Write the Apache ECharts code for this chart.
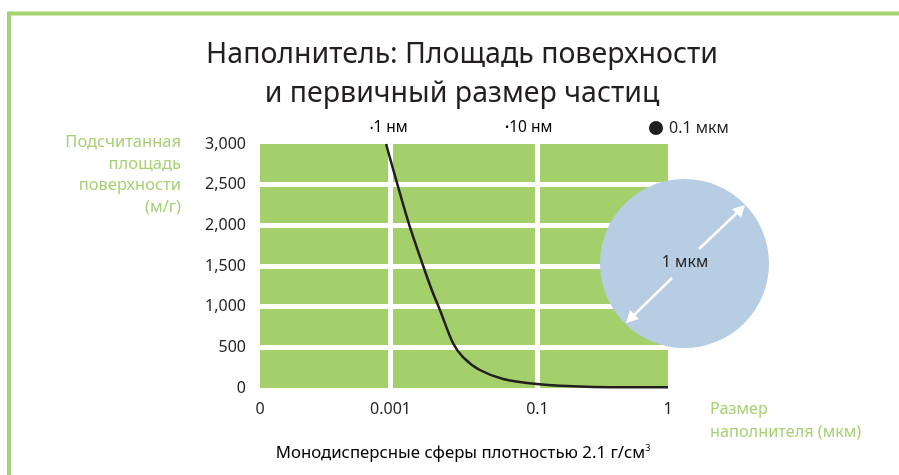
<!DOCTYPE html>
<html>
<head>
<meta charset="utf-8">
<script src="https://cdn.jsdelivr.net/npm/echarts@6/dist/echarts.min.js"></script>
<style>
html,body{margin:0;padding:0;background:#fff;}
#chart{width:899px;height:475px;}
</style>
</head>
<body>
<div id="chart"></div>
<script>
// Axis tick values (positions along the schematic size axis) and their labels
const xTickValues = [0, 32, 68, 100];
const xTickLabels = ['0', '0.001', '0.1', '1'];
// Surface area curve: [axis position, m²/g]
const curveX = [30.9, 33.7, 36.6, 40.0, 42.1, 44.1, 47.3, 49.75, 53.9, 59.6, 67.9, 80.1, 100];
const curveY = [3000, 2500, 2004, 1500, 1205, 959, 553, 381, 221, 111, 49, 16, 8];
const yMin = 0, yMax = 3000, yInterval = 500;

const GREEN = '#a3d06b';
const TEXT = '#231f20';
const LABEL_GREEN = '#a7d074';
const FONT = '"Noto Sans", "Open Sans", sans-serif';

const chart = echarts.init(document.getElementById('chart'));
chart.setOption({
  animation: false,
  backgroundColor: '#fff',
  grid: { left: 260, right: 231, top: 144, bottom: 87, show: true, backgroundColor: GREEN, borderWidth: 0 },
  xAxis: {
    type: 'value', min: 0, max: 100,
    axisLine: { show: false }, axisTick: { show: false }, splitLine: { show: false },
    axisLabel: {
      customValues: xTickValues,
      formatter: v => xTickLabels[xTickValues.indexOf(v)] ?? '',
      margin: 13, color: TEXT, fontSize: 16, fontFamily: FONT
    }
  },
  yAxis: {
    type: 'value', min: yMin, max: yMax, interval: yInterval,
    axisLine: { show: false }, axisTick: { show: false },
    splitLine: { show: true, showMinLine: false, showMaxLine: false, lineStyle: { color: '#fff', width: 5 } },
    axisLabel: {
      formatter: v => v.toLocaleString('en-US'),
      margin: 14, color: TEXT, fontSize: 16, fontFamily: FONT, padding: [0, 0, 3, 0]
    }
  },
  series: [
    {
      type: 'line', data: [], z: 1, silent: true,
      markLine: {
        z: 1, silent: true, symbol: 'none', label: { show: false },
        lineStyle: { color: '#fff', width: 5, type: 'solid' },
        emphasis: { disabled: true },
        data: xTickValues.slice(1, 3).map(v => ({ xAxis: v }))
      }
    },
    {
      type: 'line', z: 3, smooth: 0.3, symbol: 'none', clip: true,
      lineStyle: { color: TEXT, width: 2.5 },
      data: curveX.map((x, i) => [x, curveY[i]])
    }
  ],
  graphic: [
    // frame
    { type: 'line', shape: { x1: 9, y1: 13.5, x2: 899, y2: 13.5 }, style: { stroke: '#a8d372', lineWidth: 4 } },
    { type: 'line', shape: { x1: 9, y1: 11.5, x2: 9, y2: 475 }, style: { stroke: '#a8d372', lineWidth: 4 } },
    // title
    { type: 'text', x: 462, y: 55, style: { text: 'Наполнитель: Площадь поверхности', fontSize: 28.5, fontFamily: FONT, fill: TEXT, align: 'center', verticalAlign: 'middle' } },
    { type: 'text', x: 462, y: 94, style: { text: 'и первичный размер частиц', fontSize: 28.5, fontFamily: FONT, fill: TEXT, align: 'center', verticalAlign: 'middle' } },
    // y axis name
    { type: 'text', x: 181, y: 132, style: { text: 'Подсчитанная\nплощадь\nповерхности\n(м/г)', fontSize: 16.5, lineHeight: 21.5, fontFamily: FONT, fill: LABEL_GREEN, align: 'right', verticalAlign: 'top' } },
    // x axis name
    { type: 'text', x: 710, y: 398, style: { text: 'Размер\nнаполнителя (мкм)', fontSize: 16.3, lineHeight: 23, fontFamily: FONT, fill: LABEL_GREEN, align: 'left', verticalAlign: 'top' } },
    // footnote
    { type: 'text', x: 463, y: 453, style: {
        text: '{a|Монодисперсные сферы плотностью 2.1 г/см}{s|3}',
        rich: { a: { fontSize: 16.8, fontFamily: FONT, color: TEXT }, s: { fontSize: 9, fontFamily: FONT, color: TEXT, verticalAlign: 'top', padding: [0, 0, 9, 0] } },
        align: 'center', verticalAlign: 'middle' } },
    // size references on top
    { type: 'text', x: 370, y: 128, style: { text: '{d|•}{t|1 нм}', rich: { d: { fontSize: 9, color: TEXT, fontFamily: FONT }, t: { fontSize: 15.5, color: TEXT, fontFamily: FONT } }, align: 'left', verticalAlign: 'middle' } },
    { type: 'text', x: 505, y: 128, style: { text: '{d|•}{t|10 нм}', rich: { d: { fontSize: 11, color: TEXT, fontFamily: FONT }, t: { fontSize: 15.5, color: TEXT, fontFamily: FONT } }, align: 'left', verticalAlign: 'middle' } },
    { type: 'circle', shape: { cx: 656, cy: 128, r: 7 }, style: { fill: TEXT } },
    { type: 'text', x: 669, y: 128, style: { text: '0.1 мкм', fontSize: 16, fontFamily: FONT, fill: TEXT, align: 'left', verticalAlign: 'middle' } },
    // 1 µm sphere
    { type: 'circle', z: 10, shape: { cx: 684.5, cy: 263.5, r: 84.5 }, style: { fill: '#b7cde3' } },
    { type: 'line', z: 11, shape: { x1: 699, y1: 249, x2: 740, y2: 210 }, style: { stroke: '#fff', lineWidth: 2.5 } },
    { type: 'polygon', z: 11, shape: { points: [[745, 205], [741, 218], [732, 209]] }, style: { fill: '#fff' } },
    { type: 'line', z: 11, shape: { x1: 672, y1: 278, x2: 631, y2: 318 }, style: { stroke: '#fff', lineWidth: 2.5 } },
    { type: 'polygon', z: 11, shape: { points: [[626, 323], [630, 310], [639, 319]] }, style: { fill: '#fff' } },
    { type: 'text', z: 12, x: 685, y: 262, style: { text: '1 мкм', fontSize: 16, fontFamily: FONT, fill: TEXT, align: 'center', verticalAlign: 'middle' } }
  ]
});
</script>
</body>
</html>
